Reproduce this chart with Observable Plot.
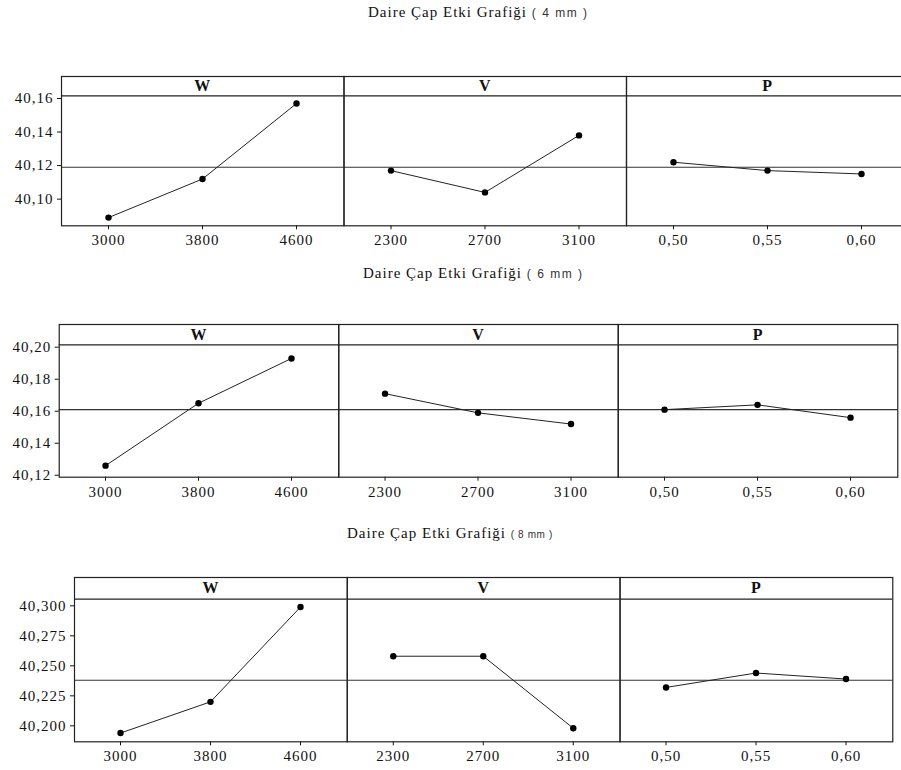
<!DOCTYPE html>
<html><head><meta charset="utf-8">
<script src="https://cdn.jsdelivr.net/npm/d3@7"></script>
<script src="https://cdn.jsdelivr.net/npm/@observablehq/plot@0.6"></script>
<style>
html,body{margin:0;padding:0;background:#fff;}
#page{position:relative;width:901px;height:770px;overflow:hidden;background:#fff;}
.title{position:absolute;white-space:nowrap;font-family:"Liberation Serif","Times New Roman",serif;font-size:15px;line-height:15px;color:#111;letter-spacing:1px;}
.title .mm{font-family:"Liberation Sans",Arial,sans-serif;font-size:12px;letter-spacing:1.5px;color:#333;}
.title .mm.small{font-size:10px;letter-spacing:0.6px;}
.row{position:absolute;left:0;}
.row svg text{letter-spacing:1px;}
</style></head>
<body><div id="page"></div>
<script>
// ---- data ----
const factors = ["W", "V", "P"];
const levelsW = ["3000", "3800", "4600"];
const levelsV = ["2300", "2700", "3100"];
const levelsP = ["0,50", "0,55", "0,60"];
const titleText = "Daire Çap Etki Grafiği";
const sizeLabels = ["( 4 mm )", "( 6 mm )", "( 8 mm )"];

// 4 mm
const w4 = [40.089, 40.112, 40.157];
const v4 = [40.117, 40.104, 40.138];
const p4 = [40.122, 40.117, 40.115];
const mean4 = 40.119;
const yTicks4 = [40.10, 40.12, 40.14, 40.16];
const yTickLabels4 = ["40,10", "40,12", "40,14", "40,16"];

// 6 mm
const w6 = [40.126, 40.165, 40.193];
const v6 = [40.171, 40.159, 40.152];
const p6 = [40.161, 40.164, 40.156];
const mean6 = 40.161;
const yTicks6 = [40.12, 40.14, 40.16, 40.18, 40.20];
const yTickLabels6 = ["40,12", "40,14", "40,16", "40,18", "40,20"];

// 8 mm
const w8 = [40.194, 40.220, 40.299];
const v8 = [40.258, 40.258, 40.198];
const p8 = [40.232, 40.244, 40.239];
const mean8 = 40.238;
const yTicks8 = [40.200, 40.225, 40.250, 40.275, 40.300];
const yTickLabels8 = ["40,200", "40,225", "40,250", "40,275", "40,300"];

// ---- layout ----
const rowsCfg = [
  {values: [w4, v4, p4], mean: mean4, yTicks: yTicks4, yTickLabels: yTickLabels4,
   yDomain: [40.0841, 40.1731], stripBottom: 40.1616,
   frameLeft: 61, frameRight: 908.5, frameTop: 75.7, plotBottom: 225,
   title: {left: 368, top: 4.7, small: false}},
  {values: [w6, v6, p6], mean: mean6, yTicks: yTicks6, yTickLabels: yTickLabels6,
   yDomain: [40.1188, 40.2142], stripBottom: 40.2015,
   frameLeft: 58.7, frameRight: 897.3, frameTop: 324, plotBottom: 476.7,
   title: {left: 363, top: 265.7, small: false}},
  {values: [w8, v8, p8], mean: mean8, yTicks: yTicks8, yTickLabels: yTickLabels8,
   yDomain: [40.1867, 40.3236], stripBottom: 40.3056,
   frameLeft: 74, frameRight: 892.3, frameTop: 576.7, plotBottom: 741,
   title: {left: 347, top: 525.5, small: true}}
];
const levels = [levelsW, levelsV, levelsP];
const page = document.getElementById("page");

rowsCfg.forEach((cfg, r) => {
  // title
  const t = document.createElement("div");
  t.className = "title";
  t.style.left = cfg.title.left + "px";
  t.style.top = cfg.title.top + "px";
  t.innerHTML = titleText + ' <span class="mm' + (cfg.title.small ? ' small' : '') + '">' + sizeLabels[r] + '</span>';
  page.appendChild(t);

  const data = factors.flatMap((f, k) => levels[k].map((label, i) => ({factor: f, i, label, value: cfg.values[k][i]})));
  const svgTop = cfg.frameTop - 1;
  const mb = 30, mr = 2;
  const height = cfg.plotBottom - svgTop + mb;
  const width = cfg.frameRight + mr;
  const chart = Plot.plot({
    width, height,
    marginLeft: cfg.frameLeft, marginRight: mr, marginTop: 1, marginBottom: mb,
    style: {fontFamily: "'Liberation Serif', 'Times New Roman', serif", fontSize: "15px", color: "#111",
            background: "transparent", maxWidth: "none", overflow: "visible"},
    fx: {domain: factors, padding: 0, round: false, axis: null},
    x: {type: "point", domain: [0, 1, 2], padding: 0.5, axis: "bottom", tickSize: 4, tickFormat: () => "", label: null},
    y: {domain: cfg.yDomain, ticks: cfg.yTicks, tickFormat: d => cfg.yTickLabels[cfg.yTicks.indexOf(d)],
        tickSize: 4, tickPadding: 4, label: null},
    marks: [
      Plot.ruleY([cfg.stripBottom], {stroke: "#222", strokeWidth: 1.2}),
      Plot.ruleY([cfg.mean], {stroke: "#333", strokeWidth: 1.1}),
      Plot.line(data, {fx: "factor", x: "i", y: "value", stroke: "#222", strokeWidth: 1}),
      Plot.dot(data, {fx: "factor", x: "i", y: "value", r: 3.2, fill: "#000", stroke: "none"}),
      Plot.text(data, {fx: "factor", x: "i", text: "label", frameAnchor: "bottom", lineAnchor: "top", dy: 9}),
      Plot.text(factors.map(f => ({factor: f})), {fx: "factor", text: "factor",
        y: (cfg.yDomain[1] + cfg.stripBottom) / 2, fontWeight: "bold", fontSize: 16}),
      Plot.frame({stroke: "#222", strokeWidth: 1.2})
    ]
  });
  const holder = document.createElement("div");
  holder.className = "row";
  holder.style.top = svgTop + "px";
  holder.appendChild(chart);
  page.appendChild(holder);
});
</script>
</body></html>
